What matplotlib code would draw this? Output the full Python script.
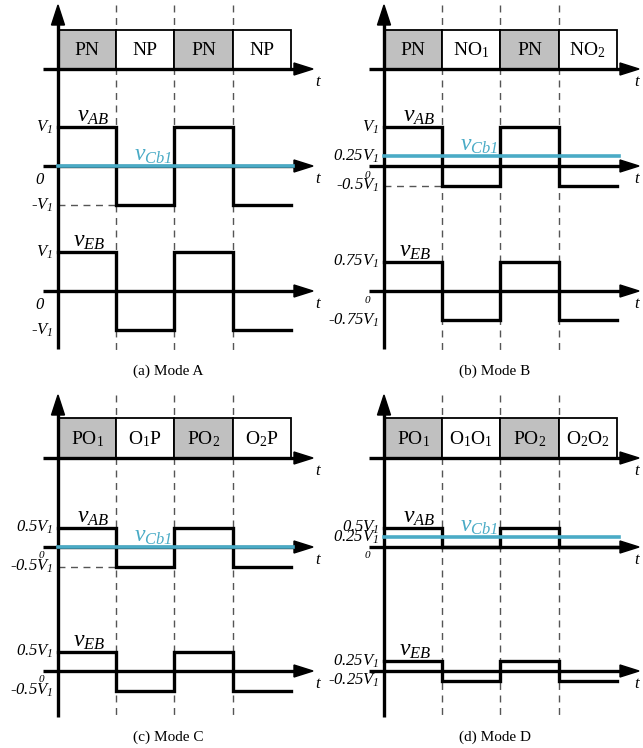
import numpy as np
import matplotlib
matplotlib.use('Agg')
import matplotlib.pyplot as plt
from matplotlib.patches import Rectangle, Polygon
from matplotlib.transforms import Affine2D

plt.rcParams['font.family'] = 'Liberation Serif'
plt.rcParams['mathtext.fontset'] = 'custom'
plt.rcParams['mathtext.rm'] = 'Liberation Serif:italic'
plt.rcParams['mathtext.it'] = 'Liberation Serif:italic'
plt.rcParams['mathtext.sf'] = 'Liberation Serif'

# data
captions = ['(a) Mode A', '(b) Mode B', '(c) Mode C', '(d) Mode D']
states = [['PN', 'NP', 'PN', 'NP'],
          ['PN', r'NO$_\mathsf{1}$', 'PN', r'NO$_\mathsf{2}$'],
          [r'PO$_\mathsf{1}$', r'O$_\mathsf{1}$P', r'PO$_\mathsf{2}$', r'O$_\mathsf{2}$P'],
          [r'PO$_\mathsf{1}$', r'O$_\mathsf{1}$O$_\mathsf{1}$', r'PO$_\mathsf{2}$', r'O$_\mathsf{2}$O$_\mathsf{2}$']]
shaded = [True, False, True, False]
t_edges = [0, 1, 2, 3, 4]
vab_high = [1, 1, 0.5, 0.5]
vab_low = [-1, -0.5, -0.5, 0]
vcb1 = [0, 0.25, 0, 0.25]
veb_amp = [1, 0.75, 0.5, 0.25]
vab_ticks = [[1, -1], [1, 0.25, -0.5], [0.5, -0.5], [0.5, 0.25]]
veb_ticks = [[1, -1], [0.75, -0.75], [0.5, -0.5], [0.25, -0.25]]
vab_ref = [-1, -0.5, -0.5, None]
veb_zero_label = [True, True, True, False]

# layout (pixels)
col_x0 = [58, 384]
row_top = [5, 395]
# box top, box bottom, vAB zero, vEB zero, axis bottom, caption
row_off = [(25, 64, 161, 286, 344, 366), (23, 63, 152, 276, 322, 342)]
seg_w = 58.2
v_px = 39.0
cyan = '#4aabc6'
lw = 2.4


def tick_text(v):
    sign = '-' if v < 0 else ''
    mag = abs(v)
    if mag == 1:
        return sign + r'$V_1$'
    return sign + r'$%gV_1$' % mag


def harrow(ax, x0, y):
    tip = x0 + 255
    ax.plot([x0 - 15, tip - 12], [y, y], color='k', lw=lw, solid_capstyle='butt', zorder=5)
    ax.add_patch(Polygon([[tip, y], [tip - 19, y - 6], [tip - 19, y + 6]], closed=True,
                         color='k', zorder=6))
    ax.text(min(tip + 2, 634), y + 13, '$t$', fontsize=12, ha='left', va='center')


fig = plt.figure(figsize=(6.43, 7.48), dpi=100)
ax = fig.add_axes([0, 0, 1, 1])
ax.set_xlim(0, 643)
ax.set_ylim(748, 0)
ax.axis('off')

for i in range(4):
    x0 = col_x0[i % 2]
    top = row_top[i // 2]
    bt, bb, zab, zeb, abot, cap = [top + o for o in row_off[i // 2]]

    # dashed boundaries
    for te in t_edges[1:4]:
        ax.plot([x0 + te * seg_w] * 2, [top, abot + 2], color='#555555', lw=1.0,
                dashes=(5, 4), zorder=1)

    # state boxes
    for k in range(4):
        xa = x0 + t_edges[k] * seg_w
        ax.add_patch(Rectangle((xa, bt), seg_w, bb - bt,
                               facecolor='#c0c0c0' if shaded[k] else 'white',
                               edgecolor='k', lw=1.3, zorder=2))
        ax.text(xa + seg_w / 2, (bt + bb) / 2 + 1, states[i][k], fontsize=14,
                ha='center', va='center', zorder=3)

    # vertical axis
    ax.plot([x0, x0], [abot, top + 15], color='k', lw=lw, solid_capstyle='butt', zorder=7)
    ax.add_patch(Polygon([[x0, top], [x0 - 6.5, top + 20], [x0 + 6.5, top + 20]],
                         closed=True, color='k', zorder=7))

    # time axes
    harrow(ax, x0, bb)
    harrow(ax, x0, zab)
    harrow(ax, x0, zeb)

    tr_ab = Affine2D().scale(seg_w, -v_px).translate(x0, zab) + ax.transData
    tr_eb = Affine2D().scale(seg_w, -v_px).translate(x0, zeb) + ax.transData

    # vAB
    hi, lo = vab_high[i], vab_low[i]
    ax.step(t_edges, [hi, lo, hi, lo, lo], where='post', color='k', lw=lw,
            solid_joinstyle='miter', transform=tr_ab, zorder=8)
    if vab_ref[i] is not None:
        ax.plot([0, 1], [vab_ref[i]] * 2, color='#555555', lw=1.0, dashes=(5, 4),
                transform=tr_ab, zorder=4)
    ax.plot([0, 4.04], [vcb1[i]] * 2, color=cyan, lw=2.6, transform=tr_ab, zorder=9)

    # vEB
    a = veb_amp[i]
    ax.step(t_edges, [a, -a, a, -a, -a], where='post', color='k', lw=lw,
            solid_joinstyle='miter', transform=tr_eb, zorder=8)

    # signal labels
    ax.text(0.33, hi, r'$v_{AB}$', fontsize=17, ha='left', va='bottom',
            transform=tr_ab, zorder=10)
    ax.text(1.3, vcb1[i], r'$v_{Cb1}$', fontsize=17, color=cyan, ha='left',
            va='bottom', transform=tr_ab, zorder=10)
    ax.text(0.25, a, r'$v_{EB}$', fontsize=17, ha='left', va='bottom',
            transform=tr_eb, zorder=10)

    # tick labels
    for v in vab_ticks[i]:
        ax.text(x0 - 5, zab - v * v_px, tick_text(v), fontsize=12, style='italic',
                ha='right', va='center')
    for v in veb_ticks[i]:
        ax.text(x0 - 5, zeb - v * v_px, tick_text(v), fontsize=12, style='italic',
                ha='right', va='center')
    if i == 0:
        ax.text(x0 - 18, zab + 14, '$0$', fontsize=12, ha='center', va='center')
        ax.text(x0 - 18, zeb + 14, '$0$', fontsize=12, ha='center', va='center')
    else:
        ax.text(x0 - 16, zab + 8, '$0$', fontsize=8, ha='center', va='center')
        if veb_zero_label[i]:
            ax.text(x0 - 16, zeb + 8, '$0$', fontsize=8, ha='center', va='center')

    ax.text(x0 + 1.9 * seg_w, cap, captions[i], fontsize=11, ha='center', va='center')

fig.savefig('out.png', dpi=100)
